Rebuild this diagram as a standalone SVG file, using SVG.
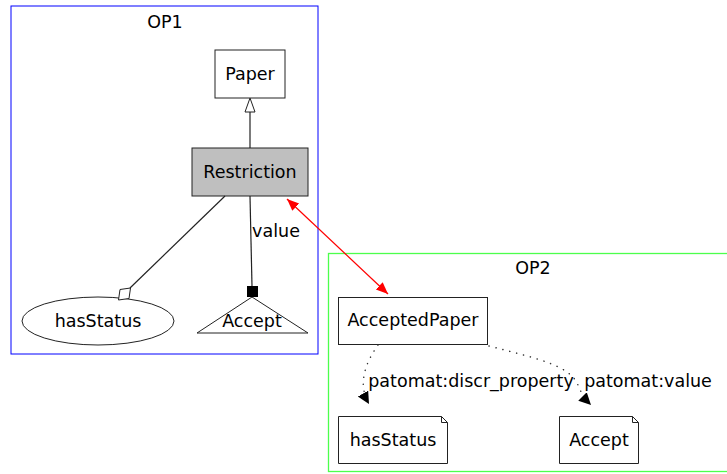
<svg xmlns="http://www.w3.org/2000/svg" width="727" height="474" viewBox="0 0 727 474">
<style>
text{font-family:"DejaVu Sans","Liberation Sans",sans-serif;font-size:17.5px;fill:#000;text-anchor:middle}
.n{fill:#fff;stroke:#222;stroke-width:1}
.e{fill:none;stroke:#222;stroke-width:1.2}
.d{fill:none;stroke:#333;stroke-width:1.5;stroke-dasharray:0.1 7;stroke-linecap:round}
</style>
<defs>
<marker id="tri" markerWidth="13" markerHeight="14" refX="12" refY="6" orient="auto" markerUnits="userSpaceOnUse"><path d="M0,0 L12,6 L0,12 Z" fill="#000"/></marker>
<marker id="red" markerWidth="13" markerHeight="12" refX="12" refY="5" orient="auto-start-reverse" markerUnits="userSpaceOnUse"><path d="M0,0 L12,5 L0,10 Z" fill="#f00"/></marker>
</defs>
<g id="OP1"><rect x="11" y="6" width="307" height="348" fill="none" stroke="#00f"/><text x="165" y="28">OP1</text></g>
<g id="OP2"><rect x="328.5" y="253.5" width="410" height="218" fill="none" stroke="#0f0" stroke-opacity="0.7" stroke-width="1.3"/><text x="533" y="274">OP2</text></g>
<g id="Paper"><rect class="n" x="215" y="50" width="70" height="48"/><text x="250" y="80">Paper</text></g>
<g id="Restriction"><rect x="192" y="148" width="116" height="48" fill="#bfbfbf" stroke="#222"/><text x="250" y="178">Restriction</text></g>
<g id="hasStatus1"><ellipse class="n" cx="98" cy="321" rx="76" ry="24"/><text x="98" y="327">hasStatus</text></g>
<g id="Accept1"><path class="n" d="M252,297 L308,333 L197,333 Z"/><text x="252" y="327">Accept</text></g>
<g id="AcceptedPaper"><rect class="n" x="338.5" y="297.5" width="149" height="47"/><text x="413" y="326">AcceptedPaper</text></g>
<g id="hasStatus2"><path class="n" d="M338.5,416.5 H441.5 L447.5,422.5 V463.5 H338.5 Z M441.5,416.5 V422.5 H447.5"/><text x="393" y="446">hasStatus</text></g>
<g id="Accept2"><path class="n" d="M559.5,416.5 H632.5 L638.5,422.5 V463.5 H559.5 Z M632.5,416.5 V422.5 H638.5"/><text x="599" y="446">Accept</text></g>
<g id="connectors">
<line class="e" x1="250" y1="148" x2="250" y2="112"/>
<path d="M250,98 L255,112 L245,112 Z" fill="#fff" stroke="#222"/>
<line class="e" x1="225" y1="196" x2="130" y2="288"/>
<path d="M130.5,288 L129,298.5 L118.5,300 L120,289.5 Z" fill="#fff" stroke="#222"/>
<line class="e" x1="250" y1="196" x2="252" y2="286"/>
<rect x="247" y="286" width="11" height="11" fill="#000"/>
<text x="276" y="237">value</text>
<line x1="287" y1="199" x2="388" y2="294" stroke="#f00" stroke-width="1.2" marker-start="url(#red)" marker-end="url(#red)"/>
<path class="d" d="M378,345 C364,365 358,385 369,404" marker-end="url(#tri)"/>
<path class="d" d="M489,346 C535,358 570,365 578,385 C582,395 585,399 591,405" marker-end="url(#tri)"/>
<text x="471" y="387">patomat:discr_property</text>
<text x="648" y="387">patomat:value</text>
</g>
</svg>
